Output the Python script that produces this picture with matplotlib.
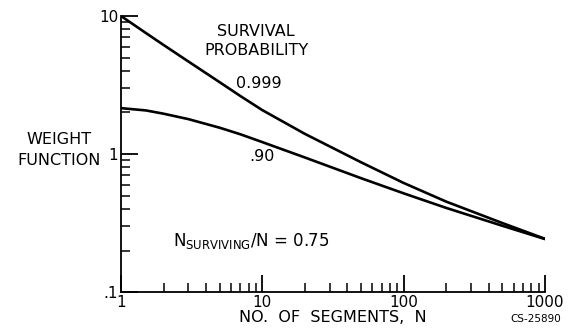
"""Weight function versus number of segments, log-log plot."""

import matplotlib
matplotlib.use("Agg")
import matplotlib.pyplot as plt
from matplotlib.ticker import FixedLocator, LogLocator, NullFormatter

# Number of segments and weight function for each survival probability
segments = [1, 1.5, 2, 3, 5, 7, 10, 20, 50, 100, 200, 500, 1000]
weight_999 = [10.0, 7.53, 6.17, 4.68, 3.31, 2.63, 2.08, 1.40, 0.871, 0.617,
              0.452, 0.316, 0.243]
weight_90 = [2.15, 2.07, 1.96, 1.79, 1.55, 1.39, 1.22, 0.944, 0.668, 0.519,
             0.407, 0.302, 0.242]

x_ticks = [1, 10, 100, 1000]
x_tick_labels = ["1", "10", "100", "1000"]
y_ticks = [0.1, 1, 10]
y_tick_labels = [".1", "1", "10"]

plt.rcParams["font.family"] = ["DejaVu Sans"]

fig = plt.figure(figsize=(5.68, 3.30), dpi=100)
ax = fig.add_axes([0.213, 0.115, 0.7465, 0.8365])

ax.plot(segments, weight_999, color="black", lw=1.9, solid_capstyle="round")
ax.plot(segments, weight_90, color="black", lw=1.9, solid_capstyle="round")

ax.set_xscale("log")
ax.set_yscale("log")
ax.set_xlim(1, 1000)
ax.set_ylim(0.1, 10)

for side in ("top", "right"):
    ax.spines[side].set_visible(False)
for side in ("left", "bottom"):
    ax.spines[side].set_linewidth(1.3)

ax.xaxis.set_major_locator(FixedLocator(x_ticks))
ax.set_xticklabels(x_tick_labels)
ax.yaxis.set_major_locator(FixedLocator(y_ticks))
ax.set_yticklabels(y_tick_labels)
ax.xaxis.set_minor_locator(LogLocator(base=10, subs=range(2, 10)))
ax.yaxis.set_minor_locator(LogLocator(base=10, subs=range(2, 10)))
ax.xaxis.set_minor_formatter(NullFormatter())
ax.yaxis.set_minor_formatter(NullFormatter())

ax.tick_params(which="major", direction="in", length=12, width=1.3,
               labelsize=11, pad=2)
ax.tick_params(which="minor", direction="in", length=6.5, width=1.1)
ax.tick_params(axis="y", which="major", pad=2)

ax.set_xlabel("NO.  OF  SEGMENTS,  N", fontsize=11.5, labelpad=0)

fig.text(0.104, 0.545, "WEIGHT\nFUNCTION", ha="center", va="center",
         fontsize=11.5, linespacing=1.45)

fig.text(0.451, 0.876, "SURVIVAL\nPROBABILITY", ha="center", va="center",
         fontsize=11.5, linespacing=1.3)
fig.text(0.455, 0.748, "0.999", ha="center", va="center", fontsize=11.5)
fig.text(0.461, 0.527, ".90", ha="center", va="center", fontsize=11.5)
fig.text(0.304, 0.27, r"N$_{\mathregular{SURVIVING}}$/N = 0.75",
         ha="left", va="center", fontsize=12)

fig.text(0.944, 0.018, "CS-25890", ha="center", va="bottom", fontsize=7.5)

fig.savefig("out.png", dpi=100)
